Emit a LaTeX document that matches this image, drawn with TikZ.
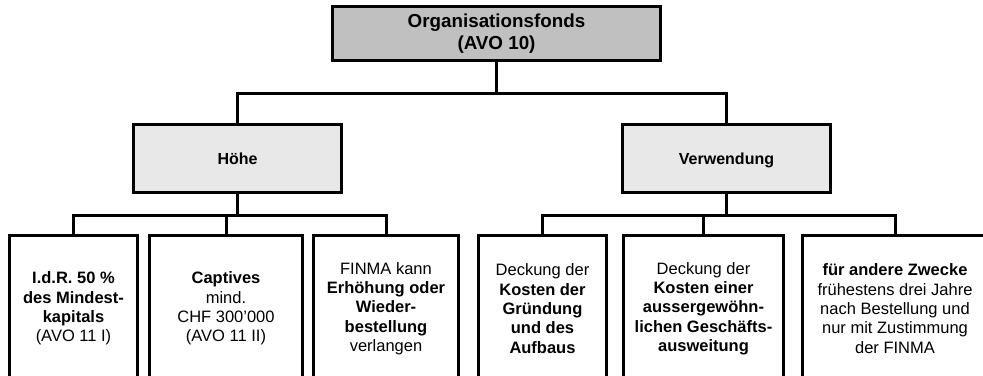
\documentclass[tikz,border=0pt]{standalone}
\usepackage{fontspec}
\setmainfont{Liberation Sans}
\usepackage{tikz}

\definecolor{topgray}{RGB}{192,192,192}
\definecolor{midgray}{RGB}{232,232,232}

\begin{document}
\begin{tikzpicture}[x=1pt,y=-1pt,
    box/.style={draw,line width=3pt,align=center,inner sep=0pt},
    conn/.style={line width=3pt},
    midbox/.style={box,fill=midgray,minimum width=208pt,minimum height=68pt,text height=11.5pt,text depth=0pt,font=\fontsize{16}{19}\selectfont\bfseries},
    leaf/.style={box,minimum height=146pt,font=\fontsize{16.5}{19.3}\selectfont}]
  \clip (0,0) rectangle (983,375);
  \node[box,fill=topgray,minimum width=328pt,minimum height=54pt,font=\fontsize{18.8}{22}\selectfont\bfseries] (top) at (496.5,33.5) {Organisationsfonds\\(AVO 10)};
  \node[midbox] (hoehe) at (237.5,158.5) {Höhe};
  \node[midbox] (verw) at (726.5,158.5) {Verwendung};
  \foreach \n/\x/\w/\t in {
      b1/73.5/128/{\textbf{I.d.R. 50 \%}\\\textbf{des Mindest-}\\\textbf{kapitals}\\(AVO 11 I)},
      b2/226/153/{\textbf{Captives}\\mind.\\CHF 300’000\\(AVO 11 II)},
      b3/386/145/{FINMA kann\\\textbf{Erhöhung oder}\\\textbf{Wieder-}\\\textbf{bestellung}\\verlangen},
      b4/542.5/128/{Deckung der\\\textbf{Kosten der}\\\textbf{Gründung}\\\textbf{und des}\\\textbf{Aufbaus}},
      b5/703.5/160/{Deckung der\\\textbf{Kosten einer}\\\textbf{aussergewöhn-}\\\textbf{lichen Geschäfts-}\\\textbf{ausweitung}},
      b6/895/185/{\textbf{für andere Zwecke}\\frühestens drei Jahre\\nach Bestellung und\\nur mit Zustimmung\\der FINMA}}
    \node[leaf,minimum width=\w pt] (\n) at (\x,308.5) {\t};
  % connectors
  \draw[conn] (top.south) -- ++(0,31.5) coordinate (t1) -| (hoehe.north);
  \draw[conn] (t1) -| (verw.north);
  \foreach \b in {b1,b2,b3}
    \draw[conn] (hoehe.south) -- ++(0,21.5) -| (\b.north);
  \foreach \b in {b4,b5,b6}
    \draw[conn] (verw.south) -- ++(0,21.5) -| (\b.north);
\end{tikzpicture}
\end{document}
